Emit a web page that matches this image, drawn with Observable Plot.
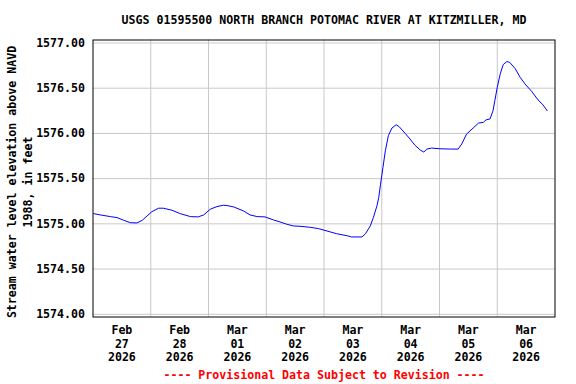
<!DOCTYPE html>
<html>
<head>
<meta charset="utf-8">
<script src="https://cdn.jsdelivr.net/npm/d3@7"></script>
<script src="https://cdn.jsdelivr.net/npm/@observablehq/plot@0.6"></script>
<style>
  html, body { margin: 0; padding: 0; background: #fff; }
</style>
</head>
<body>
<div id="chart"></div>
<script>
const titleText = "USGS 01595500 NORTH BRANCH POTOMAC RIVER AT KITZMILLER, MD";
const yLabelText = "Stream water level elevation above NAVD\n1988, in feet";
const footerText = "---- Provisional Data Subject to Revision ----";

const times = [
  "2026-02-27T00:15Z","2026-02-27T03:00Z","2026-02-27T07:15Z","2026-02-27T10:00Z","2026-02-27T12:45Z",
  "2026-02-27T15:30Z","2026-02-27T18:15Z","2026-02-27T20:30Z","2026-02-27T22:30Z","2026-02-28T00:30Z",
  "2026-02-28T03:15Z","2026-02-28T05:15Z","2026-02-28T08:45Z","2026-02-28T12:15Z","2026-02-28T16:30Z",
  "2026-02-28T19:45Z","2026-02-28T22:00Z","2026-03-01T00:45Z","2026-03-01T03:30Z","2026-03-01T06:15Z",
  "2026-03-01T07:45Z","2026-03-01T10:30Z","2026-03-01T14:30Z","2026-03-01T17:15Z","2026-03-01T20:15Z",
  "2026-03-01T23:30Z","2026-03-02T03:00Z","2026-03-02T05:45Z","2026-03-02T08:30Z","2026-03-02T11:15Z",
  "2026-03-02T14:00Z","2026-03-02T18:15Z","2026-03-02T21:45Z","2026-03-03T01:15Z","2026-03-03T05:15Z",
  "2026-03-03T09:30Z","2026-03-03T11:30Z","2026-03-03T15:45Z","2026-03-03T17:15Z","2026-03-03T19:15Z",
  "2026-03-03T20:30Z","2026-03-03T22:00Z","2026-03-03T22:45Z","2026-03-03T23:30Z","2026-03-04T00:30Z",
  "2026-03-04T01:30Z","2026-03-04T02:45Z","2026-03-04T04:15Z","2026-03-04T06:00Z","2026-03-04T07:15Z",
  "2026-03-04T09:45Z","2026-03-04T11:45Z","2026-03-04T13:45Z","2026-03-04T16:00Z","2026-03-04T17:30Z",
  "2026-03-04T18:45Z","2026-03-04T20:45Z","2026-03-05T00:15Z","2026-03-05T04:30Z","2026-03-05T07:45Z",
  "2026-03-05T09:15Z","2026-03-05T11:15Z","2026-03-05T14:00Z","2026-03-05T16:15Z","2026-03-05T18:15Z",
  "2026-03-05T19:15Z","2026-03-05T21:00Z","2026-03-05T22:15Z","2026-03-05T23:00Z","2026-03-06T00:00Z",
  "2026-03-06T01:15Z","2026-03-06T02:30Z","2026-03-06T04:00Z","2026-03-06T05:15Z","2026-03-06T07:30Z",
  "2026-03-06T09:30Z","2026-03-06T11:30Z","2026-03-06T14:15Z","2026-03-06T17:00Z","2026-03-06T19:00Z",
  "2026-03-06T20:45Z"
];
const levels = [
  1575.113,1575.099,1575.080,1575.069,1575.040,
  1575.013,1575.010,1575.040,1575.088,1575.135,
  1575.173,1575.173,1575.151,1575.113,1575.080,
  1575.077,1575.099,1575.162,1575.191,1575.206,
  1575.202,1575.187,1575.143,1575.099,1575.080,
  1575.077,1575.043,1575.021,1574.996,1574.977,
  1574.973,1574.962,1574.947,1574.921,1574.891,
  1574.869,1574.855,1574.855,1574.891,1574.977,
  1575.069,1575.199,1575.291,1575.439,1575.623,
  1575.808,1575.975,1576.060,1576.096,1576.074,
  1576.000,1575.938,1575.871,1575.816,1575.794,
  1575.827,1575.838,1575.830,1575.827,1575.827,
  1575.883,1575.993,1576.060,1576.115,1576.122,
  1576.149,1576.160,1576.252,1576.363,1576.510,
  1576.659,1576.762,1576.795,1576.784,1576.714,
  1576.621,1576.548,1576.466,1576.370,1576.315,
  1576.252
];

const yTicks = [1574.0, 1574.5, 1575.0, 1575.5, 1576.0, 1576.5, 1577.0];
const dayBoundaries = ["2026-02-28","2026-03-01","2026-03-02","2026-03-03","2026-03-04","2026-03-05","2026-03-06"];
const dayLabels = ["2026-02-27","2026-02-28","2026-03-01","2026-03-02","2026-03-03","2026-03-04","2026-03-05","2026-03-06"];
const xStart = "2026-02-27", xEnd = "2026-03-07";

const data = times.map((t, i) => ({t: new Date(t), v: levels[i]}));
const gridDates = dayBoundaries.map(d => new Date(d + "T00:00Z"));
const labelDates = dayLabels.map(d => new Date(d + "T12:00Z"));
const fmt = d3.utcFormat("%b\n%d\n%Y");

const gridColor = "#c8c8c8";

const chart = Plot.plot({
  width: 576,
  height: 384,
  marginLeft: 92.5,
  marginRight: 21.5,
  marginTop: 39.5,
  marginBottom: 67.5,
  style: {
    fontFamily: "'DejaVu Sans Mono', monospace",
    fontSize: "11.6px",
    fontWeight: "bold",
    background: "#fff",
    color: "#000",
    overflow: "visible"
  },
  x: {type: "utc", domain: [new Date(xStart + "T00:00Z"), new Date(xEnd + "T00:00Z")]},
  y: {domain: [1573.970, 1577.033]},
  marks: [
    Plot.gridY(yTicks, {stroke: gridColor, strokeOpacity: 1, strokeWidth: 1}),
    Plot.ruleX(gridDates, {stroke: gridColor, strokeOpacity: 1, strokeWidth: 1}),
    Plot.line(data, {x: "t", y: "v", stroke: "#0000ff", strokeWidth: 1}),
    Plot.frame({stroke: "#000", strokeWidth: 1}),
    Plot.axisY(yTicks, {tickFormat: d => d.toFixed(2), tickSize: 0, tickPadding: 8, label: null, fill: "#000"}),
    Plot.axisX(labelDates, {tickFormat: fmt, tickSize: 0, tickPadding: 8, lineHeight: 1.15, label: null, fill: "#000"}),
    Plot.text([titleText], {frameAnchor: "top", lineAnchor: "middle", dy: -20, text: d => d, fill: "#000"}),
    Plot.text([yLabelText], {frameAnchor: "left", textAnchor: "middle", lineAnchor: "middle", dx: -74, dy: 3.5, rotate: -90, lineHeight: 1.33, text: d => d, fill: "#000"}),
    Plot.text([footerText], {frameAnchor: "bottom", lineAnchor: "middle", dy: 58.5, text: d => d, fill: "#ff0000"})
  ]
});
document.getElementById("chart").appendChild(chart);
</script>
</body>
</html>
